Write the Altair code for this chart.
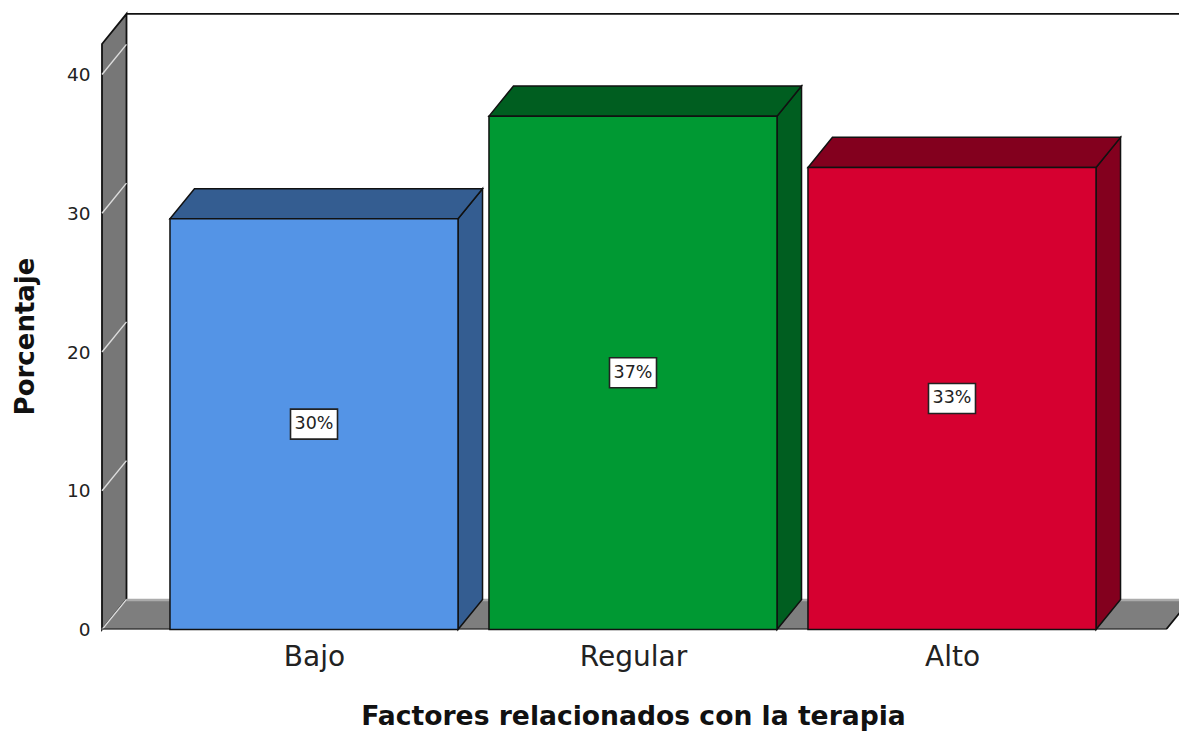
import altair as alt
import pandas as pd

# Chart values
categories = ["Bajo", "Regular", "Alto"]
percentages = [29.6, 37.0, 33.3]
front_colors = ["#5494E6", "#009933", "#D60030"]
side_colors = ["#345D91", "#005E20", "#83001E"]
y_ticks = [0, 10, 20, 30, 40]

# Extrusion geometry, in axis units (x: one unit per category, y: percent)
BAR_HALF = 0.4515
DEPTH_X = 0.0768
DEPTH_Y = 2.17
WALL_TOP = 42.2
FLOOR_LEFT = -0.6646
FLOOR_RIGHT = 2.671
X_DOMAIN = [-0.6646, 2.7116]
Y_DOMAIN = [0, 45.37]

WALL_GRAY = "#777777"
FLOOR_GRAY = "#7E7E7E"
FONT = "DejaVu Sans"

x_scale = alt.Scale(domain=X_DOMAIN, nice=False, zero=False)
y_scale = alt.Scale(domain=Y_DOMAIN, nice=False, zero=False)

label_expr = "[" + ",".join(f"'{c}'" for c in categories) + "][datum.value]"
x_axis = alt.Axis(
    values=[0, 1, 2], labelExpr=label_expr, grid=False, domain=False, ticks=False,
    labelFont=FONT, labelFontSize=28, labelColor="#222222", labelPadding=14,
    title="Factores relacionados con la terapia",
    titleFont=FONT, titleFontSize=26.6, titleFontWeight="bold", titleColor="#111111",
    titleX=531, titleY=87, titleBaseline="middle", titleAlign="center",
)
y_axis = alt.Axis(
    values=y_ticks, grid=False, domain=False, ticks=False,
    labelFont=FONT, labelFontSize=18.5, labelColor="#222222", labelPadding=12,
    title="Porcentaje",
    titleFont=FONT, titleFontSize=26, titleFontWeight="bold", titleColor="#111111",
    titleX=-77, titleY=336, titleBaseline="middle", titleAlign="center",
)


def X(field="x"):
    return alt.X(f"{field}:Q", scale=x_scale, axis=x_axis)


def Y(field="y"):
    return alt.Y(f"{field}:Q", scale=y_scale, axis=y_axis)


# Side wall and its diagonal grid lines
wall = pd.DataFrame({
    "x": [FLOOR_LEFT, FLOOR_LEFT + DEPTH_X],
    "y": [0, DEPTH_Y],
    "y2": [WALL_TOP, WALL_TOP + DEPTH_Y],
})
wall_layer = alt.Chart(wall).mark_area(
    fill=WALL_GRAY, stroke="#111111", strokeWidth=1.8
).encode(x=X(), y=Y(), y2="y2:Q")

grid = pd.DataFrame([
    {"tick": t, "x": FLOOR_LEFT + d * DEPTH_X, "y": t + d * DEPTH_Y}
    for t in y_ticks for d in (0, 1)
])
grid_layer = alt.Chart(grid).mark_line(
    color="#DDDDDD", strokeWidth=1.4
).encode(x=X(), y=Y(), detail="tick:N")

# Back wall outline
back_top = pd.DataFrame({
    "x": [FLOOR_LEFT + DEPTH_X, X_DOMAIN[1]],
    "y": [WALL_TOP + DEPTH_Y] * 2,
})
back_top_layer = alt.Chart(back_top).mark_line(
    color="#111111", strokeWidth=1.8
).encode(x=X(), y=Y())

# Floor
floor = pd.DataFrame({
    "x": [FLOOR_LEFT, FLOOR_LEFT + DEPTH_X, FLOOR_RIGHT, FLOOR_RIGHT + DEPTH_X],
    "y": [0, 0, 0, DEPTH_Y],
    "y2": [0, DEPTH_Y, DEPTH_Y, DEPTH_Y],
})
floor_layer = alt.Chart(floor).mark_area(fill=FLOOR_GRAY, clip=True).encode(
    x=X(), y=Y(), y2="y2:Q"
)
floor_back = pd.DataFrame({
    "x": [FLOOR_LEFT + DEPTH_X, FLOOR_RIGHT + DEPTH_X],
    "y": [DEPTH_Y - 0.05] * 2,
})
floor_back_layer = alt.Chart(floor_back).mark_line(
    color="#ABABAB", strokeWidth=2.5, clip=True
).encode(x=X(), y=Y())
floor_edge = pd.DataFrame({
    "x": [FLOOR_LEFT, FLOOR_RIGHT, FLOOR_RIGHT + DEPTH_X],
    "y": [0, 0, DEPTH_Y],
})
floor_edge_layer = alt.Chart(floor_edge).mark_line(
    color="#111111", strokeWidth=1.8, clip=True
).encode(x=X(), y=Y())

# Extruded bars: side face, top face and front face for each category
side_rows, top_rows, front_rows = [], [], []
for i, (cat, val, front, side) in enumerate(
    zip(categories, percentages, front_colors, side_colors)
):
    left, right = i - BAR_HALF, i + BAR_HALF
    side_rows += [
        {"cat": cat, "x": right, "y": 0, "y2": val, "fill": side},
        {"cat": cat, "x": right + DEPTH_X, "y": DEPTH_Y, "y2": val + DEPTH_Y, "fill": side},
    ]
    top_rows += [
        {"cat": cat, "x": left, "y": val, "y2": val, "fill": side},
        {"cat": cat, "x": left + DEPTH_X, "y": val, "y2": val + DEPTH_Y, "fill": side},
        {"cat": cat, "x": right, "y": val, "y2": val + DEPTH_Y, "fill": side},
        {"cat": cat, "x": right + DEPTH_X, "y": val + DEPTH_Y, "y2": val + DEPTH_Y, "fill": side},
    ]
    front_rows.append({
        "cat": cat, "x": left, "x2": right, "y": 0, "y2": val,
        "mid": i, "value": val, "half": val / 2, "fill": front,
    })

side_layer = alt.Chart(pd.DataFrame(side_rows)).mark_area(
    stroke="#111111", strokeWidth=1.5
).encode(
    x=X(), y=Y(), y2="y2:Q", detail="cat:N",
    fill=alt.Fill("fill:N", scale=None),
)
top_layer = alt.Chart(pd.DataFrame(top_rows)).mark_area(
    stroke="#111111", strokeWidth=1.5
).encode(
    x=X(), y=Y(), y2="y2:Q", detail="cat:N",
    fill=alt.Fill("fill:N", scale=None),
)
fronts = pd.DataFrame(front_rows)
front_layer = alt.Chart(fronts).mark_rect(
    stroke="#111111", strokeWidth=1.5
).encode(
    x=X(), x2="x2:Q", y=Y(), y2="y2:Q",
    fill=alt.Fill("fill:N", scale=None),
)

# Value labels in white boxes at mid height of each bar
label_box = alt.Chart(fronts).mark_rect(
    width=47, height=30, fill="white", stroke="#222222", strokeWidth=1.6
).encode(x=X("mid"), y=Y("half"))
label_text = alt.Chart(fronts).transform_calculate(
    label="format(datum.value, '.0f') + '%'"
).mark_text(font=FONT, fontSize=17.5, color="#222222").encode(
    x=X("mid"), y=Y("half"), text="label:N"
)

chart = alt.layer(
    wall_layer, back_top_layer, floor_layer, floor_back_layer,
    grid_layer, floor_edge_layer, side_layer, top_layer, front_layer,
    label_box, label_text,
).properties(
    width=1077,
    height=629.5,
    padding={"left": 102, "top": 0, "right": 0, "bottom": 101.5},
    autosize=alt.AutoSizeParams(type="none"),
    background="white",
).configure_view(stroke=None)

chart.save("out.html", embed_options={"renderer": "svg", "actions": False})
